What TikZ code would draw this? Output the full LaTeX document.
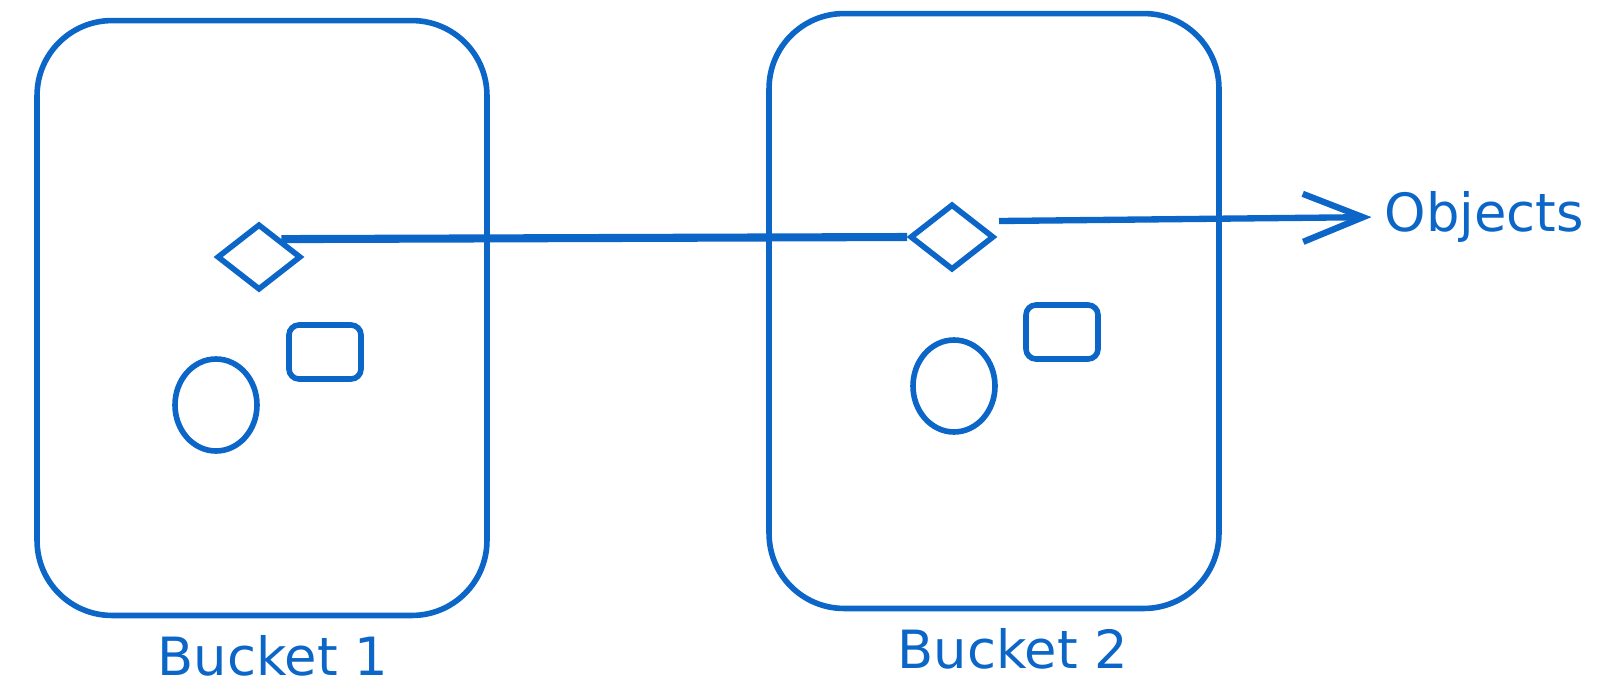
\documentclass[tikz,border=0pt]{standalone}
\usepackage{fontspec}
\setmainfont{DejaVu Sans}
\usepackage{tikz}
\usetikzlibrary{arrows.meta,shapes.geometric}
\definecolor{ink}{RGB}{11,102,200}

\begin{document}
\begin{tikzpicture}[x=0.02cm,y=-0.02cm,line width=3.2pt,draw=ink,
    bucket/.style={draw=ink,rectangle,rounded corners=1.5cm,minimum width=9cm,minimum height=11.9cm,inner sep=0pt},
    obj/.style={draw=ink,diamond,minimum width=1.68cm,minimum height=1.32cm,inner sep=0pt},
    box/.style={draw=ink,rectangle,rounded corners=0.2cm,minimum width=1.44cm,minimum height=1.08cm,inner sep=0pt},
    blob/.style={draw=ink,ellipse,minimum width=1.64cm,minimum height=1.84cm,inner sep=0pt},
    lbl/.style={text=ink,font=\fontsize{30}{36}\selectfont,inner sep=0pt}]
  \useasboundingbox (0,0) rectangle (1618,690);

  \node[bucket] (b1) at (262,318) {};
  \node[bucket] (b2) at (994,311) {};

  \node[obj]  (d1) at (259,257) {};
  \node[box]  (r1) at (325,352) {};
  \node[blob] (c1) at (216,405) {};

  \node[obj]  (d2) at (952,237) {};
  \node[box]  (r2) at (1062,332) {};
  \node[blob] (c2) at (954,386) {};

  \node[lbl] (l1) at (273,656) {Bucket 1};
  \node[lbl] (l2) at (1013,649) {Bucket 2};
  \node[lbl,anchor=west] (obs) at (1382,217) {Objects};
  \coordinate (s) at (999,221);

  \draw[ink,line width=4.6pt] (d1.north east) -- (d2.west);
  \draw[ink,line width=3.6pt,shorten >=6pt,-{Straight Barb[length=1.2cm,width=0.96cm]}] (s) -- (obs.west);
\end{tikzpicture}
\end{document}
